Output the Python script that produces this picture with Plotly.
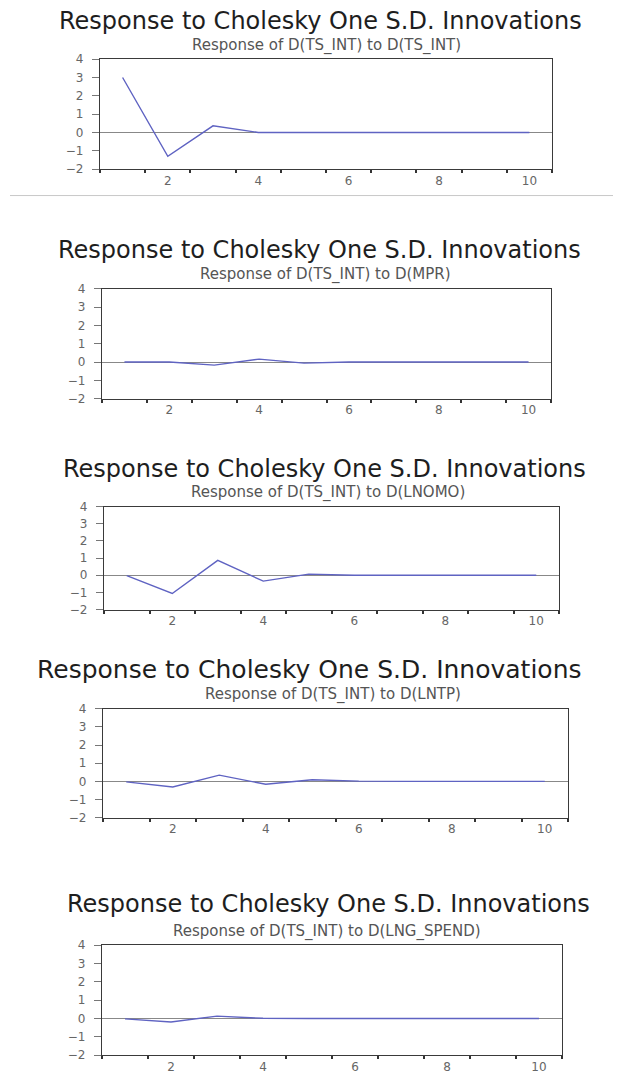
import plotly.graph_objects as go

periods = [1, 2, 3, 4, 5, 6, 7, 8, 9, 10]
main_title = "Response to Cholesky One S.D. Innovations"
subtitles = [
    "Response of D(TS_INT) to D(TS_INT)",
    "Response of D(TS_INT) to D(MPR)",
    "Response of D(TS_INT) to D(LNOMO)",
    "Response of D(TS_INT) to D(LNTP)",
    "Response of D(TS_INT) to D(LNG_SPEND)",
]
resp_ts_int = [3.00, -1.30, 0.36, 0.00, 0.00, 0.00, 0.00, 0.00, 0.00, 0.00]
resp_mpr = [0.00, 0.00, -0.17, 0.16, -0.06, 0.00, 0.00, 0.00, 0.00, 0.00]
resp_lnomo = [-0.02, -1.06, 0.87, -0.34, 0.07, 0.00, 0.00, 0.00, 0.00, 0.00]
resp_lntp = [-0.03, -0.31, 0.34, -0.16, 0.09, 0.01, 0.00, 0.00, 0.00, 0.00]
resp_lng_spend = [-0.02, -0.19, 0.13, 0.01, 0.00, 0.00, 0.00, 0.00, 0.00, 0.00]
y_ticks = [-2, -1, 0, 1, 2, 3, 4]
x_labels = [2, 4, 6, 8, 10]
x_minor = [0.5, 1.5, 2.5, 3.5, 4.5, 5.5, 6.5, 7.5, 8.5, 9.5, 10.5]

series = [resp_ts_int, resp_mpr, resp_lnomo, resp_lntp, resp_lng_spend]

# the page body adds an 8px margin; lay out in window pixels and shift
OFF = 8
W, H = 621 - 2 * OFF, 1082 - 2 * OFF
# plot boxes in window pixels: left, right, top, bottom
boxes = [
    (100, 552, 53, 165),
    (102, 551, 287, 399),
    (104, 559, 509, 614),
    (103, 568, 715, 826),
    (102, 562, 956, 1068),
]
# main title: (x, y, anchor, size)
titles = [
    (320, 14, "center", 24),
    (319, 247, "center", 24),
    (324, 471, "center", 24),
    (35, 675, "left", 25),
    (328, 914, "center", 24),
]
subs = [(326, 39), (325, 272), (328, 495), (333, 700), (327, 942)]


def px(x):
    return (x - OFF) / W


def py(y):
    return 1 - (y - OFF) / H


fig = go.Figure()
annotations = []
for i, (vals, box) in enumerate(zip(series, boxes)):
    n = i + 1
    xa = "x" if n == 1 else f"x{n}"
    ya = "y" if n == 1 else f"y{n}"
    fig.add_trace(go.Scatter(x=periods, y=vals, mode="lines",
                             line=dict(color="#5f63c2", width=1.4),
                             xaxis=xa, yaxis=ya, showlegend=False,
                             hoverinfo="skip"))
    l, r, t, b = box
    xkey = "xaxis" if n == 1 else f"xaxis{n}"
    ykey = "yaxis" if n == 1 else f"yaxis{n}"
    fig.update_layout({
        xkey: dict(domain=[px(l), px(r)], anchor=ya, range=[0.5, 10.5],
                   tickmode="array", tickvals=x_labels, ticks="",
                   showgrid=False, zeroline=False,
                   showline=True, mirror=True, linecolor="#3a3a3a", linewidth=1.4,
                   tickfont=dict(family="DejaVu Sans", size=12, color="#666"),
                   minor=dict(tickmode="array", tickvals=x_minor, ticks="outside",
                              ticklen=3, tickcolor="#333", tickwidth=1.5),
                   fixedrange=True),
        ykey: dict(domain=[py(b), py(t)], anchor=xa, range=[-2, 4],
                   tickmode="array", tickvals=y_ticks, ticks="outside",
                   ticklen=7, tickcolor="#777", tickwidth=1, showgrid=False,
                   ticklabelstandoff=6,
                   zeroline=True, zerolinecolor="#888", zerolinewidth=1,
                   showline=True, mirror=True, linecolor="#3a3a3a", linewidth=1.4,
                   tickfont=dict(family="DejaVu Sans", size=12, color="#666"),
                   fixedrange=True),
    })
    tx, ty, anc, sz = titles[i]
    annotations.append(dict(text=main_title, x=px(tx), y=py(ty),
                            xref="paper", yref="paper", xanchor=anc, yanchor="middle",
                            showarrow=False,
                            font=dict(family="DejaVu Sans", size=sz, color="#1e1e1e")))
    sx, sy = subs[i]
    annotations.append(dict(text=subtitles[i], x=px(sx), y=py(sy),
                            xref="paper", yref="paper", xanchor="center", yanchor="middle",
                            showarrow=False,
                            font=dict(family="DejaVu Sans", size=15, color="#555")))

fig.update_layout(
    width=W, height=H,
    margin=dict(l=0, r=0, t=0, b=0),
    paper_bgcolor="white", plot_bgcolor="white",
    annotations=annotations,
    shapes=[dict(type="line", xref="paper", yref="paper",
                 x0=px(10), x1=1, y0=py(192), y1=py(192),
                 line=dict(color="#c8c8c8", width=1))],
)

fig.write_html("out.html")
